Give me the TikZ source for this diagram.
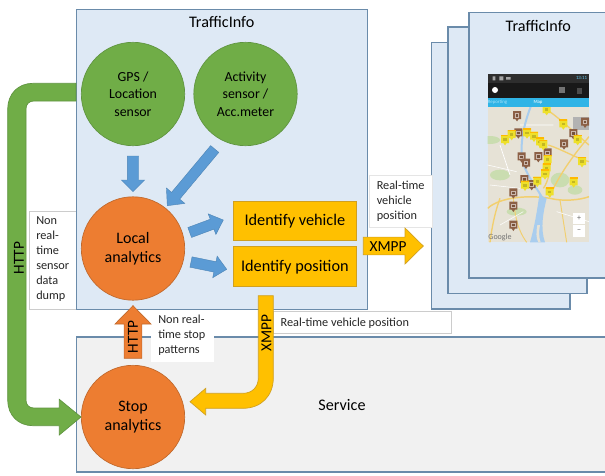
\documentclass[tikz,border=0pt]{standalone}
\usepackage{fontspec}
\setmainfont{Carlito}
\usetikzlibrary{calc}
\definecolor{panelfill}{HTML}{DEE9F5}
\definecolor{panelline}{HTML}{6A8BAA}
\definecolor{servfill}{HTML}{F1F1F1}
\definecolor{greenf}{HTML}{70AD47}
\definecolor{greenl}{HTML}{5F9440}
\definecolor{orangef}{HTML}{ED7D31}
\definecolor{orangel}{HTML}{C0682C}
\definecolor{yellowf}{HTML}{FFC000}
\definecolor{yellowl}{HTML}{D0A020}
\definecolor{bluef}{HTML}{5B9BD5}
\definecolor{mapbg}{HTML}{E6E2D6}
\definecolor{road}{HTML}{F2CF6E}
\definecolor{river}{HTML}{A9CDEE}
\definecolor{park}{HTML}{CADDB0}
\definecolor{pinY}{HTML}{EEE02A}
\definecolor{pinB}{HTML}{8C6046}
\definecolor{tabblue}{HTML}{30B4E6}
\def\u{0.75pt}
\tikzset{
  panel/.style={draw=panelline,line width=0.85pt,fill=panelfill,inner sep=0pt},
  servpanel/.style={panel,fill=servfill},
  sensor/.style={circle,draw=greenl,fill=greenf,line width=0.5pt,minimum size=103.4*\u,inner sep=0pt,align=center,font=\fontsize{10.4pt}{13pt}\selectfont},
  analytic/.style={circle,draw=orangel,fill=orangef,line width=0.5pt,minimum size=103.4*\u,inner sep=0pt,align=center,font=\fontsize{12pt}{14.5pt}\selectfont},
  idbox/.style={draw=yellowl,fill=yellowf,line width=0.6pt,inner sep=0pt,text height=8.5pt,text depth=0.5pt,font=\fontsize{12.2pt}{14pt}\selectfont},
  title/.style={inner sep=0pt,font=\fontsize{12.1pt}{14pt}\selectfont},
  lbl/.style={inner sep=0pt,align=left,font=\fontsize{9.2pt}{11.3pt}\selectfont,text=black!85},
  lblbox/.style={fill=white,inner sep=0pt},
  arrowlbl/.style={inner sep=0pt,font=\fontsize{11.5pt}{13pt}\selectfont},
  bluearrow/.style={fill=bluef,draw=bluef!85!black,line width=0.3pt},
  tiny/.style={inner sep=0pt,font=\fontsize{3.6pt}{4pt}\selectfont}
}
% style, from, to, shaft width, head width, head length (in reference pixels)
\newcommand{\blockarrow}[6]{%
  \coordinate (hb) at ($(#3)!#6*0.75pt!(#2)$);
  \draw[#1] ($(#2)!#4*0.375pt!90:(#3)$) -- ($(hb)!#4*0.375pt!90:(#3)$) -- ($(hb)!#5*0.375pt!90:(#3)$) -- (#3)
    -- ($(hb)!#5*0.375pt!-90:(#3)$) -- ($(hb)!#4*0.375pt!-90:(#3)$) -- ($(#2)!#4*0.375pt!-90:(#3)$) -- cycle;
}
\newcommand{\mappin}[3]{%
  \fill[#3] (#1-12,#2-15) -- (#1+12,#2-15) -- (#1+12,#2+9) -- (#1+5,#2+9) -- (#1,#2+16) -- (#1-5,#2+9) -- (#1-12,#2+9) -- cycle;
}
\newcommand{\ypin}[2]{\mappin{#1}{#2}{pinY}\fill[orange!55!yellow] (#1-12,#2-15) rectangle (#1+12,#2-11);\fill[pinY!82!black] (#1-5,#2-5) rectangle (#1+5,#2+3);}
\newcommand{\bpin}[2]{\mappin{#1}{#2}{pinB}\fill[pinB!45!white] (#1-7,#2-8) rectangle (#1+7,#2+5);\fill[pinB!85!black] (#1-4,#2-5) rectangle (#1+4,#2+2);}
\begin{document}
\begin{tikzpicture}[x=0.75pt,y=-0.75pt]
\useasboundingbox (0,0) rectangle (605,475);
% label behind the panel
\node[lblbox,draw=black!20,line width=0.5pt,minimum width=60*\u,minimum height=98*\u] (dumpbox) at (59,260.3) {};
% phone stack
\node[panel,minimum width=138.3*\u,minimum height=266.3*\u] (stackc) at (500.85,175.85) {};
\node[panel,minimum width=139*\u,minimum height=266.7*\u] (stackb) at (517.5,160.35) {};
\node[panel,minimum width=160*\u,minimum height=265.3*\u] (stacka) at (549,145.35) {};
\node[title] (apptitle) at (538.3,26) {TrafficInfo};
% panels
\node[panel,minimum width=291*\u,minimum height=300.3*\u] (trafficpanel) at (222,159.3) {};
\node[servpanel,minimum width=560*\u,minimum height=135*\u] (servicepanel) at (356.5,404.5) {};
\node[title] (traffictitle) at (221.7,22.3) {TrafficInfo};
\node[title] (servicetitle) at (342,405) {Service};
% white labels
\node[lblbox,draw=black!20,line width=0.5pt,minimum width=178.4*\u,minimum height=22.4*\u] (rtbox) at (362.5,322.5) {};
\node[lbl,anchor=west] (rtlabel) at (280.3,323) {Real-time vehicle position};
\node[lblbox,minimum width=63.3*\u,minimum height=51.7*\u] (stopbox) at (182.35,335.85) {};
\node[lbl,anchor=north west] (stoplabel) at (158,314.5) {Non real-\\time stop\\patterns};
\node[lblbox,draw=black!10,line width=0.4pt,minimum width=62.7*\u,minimum height=52*\u] (vehbox) at (400.65,201.7) {};
\node[lbl,anchor=north west] (vehlabel) at (376.5,180.5) {Real-time\\vehicle\\position};
\node[lbl,anchor=north west] (dumplabel) at (36,216) {Non\\real-\\time\\sensor\\data\\dump};
% circles and boxes
\node[sensor] (gps) at (133,94) {GPS /\\Location\\sensor};
\node[sensor] (activity) at (245.5,94) {Activity\\sensor /\\Acc.meter};
\node[analytic] (local) at (133,248.5) {Local\\analytics};
\node[analytic] (stop) at (133,417) {Stop\\analytics};
\node[idbox,minimum width=123.7*\u,minimum height=39*\u] (idveh) at (294.85,220.5) {Identify vehicle};
\node[idbox,minimum width=123.7*\u,minimum height=40.7*\u] (idpos) at (294.85,266.35) {Identify position};
% blue arrows
\coordinate (a1s) at (133,156); \coordinate (a1e) at (133,191.7);
\blockarrow{bluearrow}{a1s}{a1e}{11.4}{23.4}{11.7}
\coordinate (a2s) at (214.7,149); \coordinate (a2e) at (167.3,205.7);
\blockarrow{bluearrow}{a2s}{a2e}{10.6}{24}{13}
\coordinate (a3s) at (189.7,232.5); \coordinate (a3e) at (223.3,220);
\blockarrow{bluearrow}{a3s}{a3e}{10.6}{22}{12}
\coordinate (a4s) at (191,262); \coordinate (a4e) at (226.7,269.3);
\blockarrow{bluearrow}{a4s}{a4e}{10.6}{22}{12}
% green HTTP arrow
\coordinate (g1) at (76,83.3);
\draw[fill=greenf,draw=greenl,line width=0.5pt]
  (g1) -- (33,83.3) .. controls (18,83.3) and (7.7,94) .. (7.7,109)
  -- (7.7,400) .. controls (7.7,415) and (18,425.7) .. (33,425.7)
  -- (59.3,425.7) -- (59.3,435) -- (stop.west) -- (59.3,399.3) -- (59.3,408)
  -- (34,408) .. controls (29,408) and (26,405) .. (26,400)
  -- (26,109) .. controls (26,104) and (29,101) .. (34,101) -- (76,101) -- cycle;
\node[arrowlbl,rotate=90] (httpleft) at (19,258) {HTTP};
% orange HTTP arrow
\coordinate (o1) at (133,358.3); \coordinate (o2) at (133,305.7);
\blockarrow{fill=orangef,draw=orangel,line width=0.5pt}{o1}{o2}{17.7}{36}{18.3}
\node[arrowlbl,rotate=90] (httpup) at (133,336.7) {HTTP};
% yellow XMPP right
\coordinate (y1) at (363.3,246); \coordinate (y2) at (423.3,246);
\blockarrow{fill=yellowf,draw=yellowl,line width=0.5pt}{y1}{y2}{17.7}{36}{18.3}
\node[arrowlbl] (xmppright) at (388,247) {XMPP};
% yellow XMPP curved
\coordinate (c1) at (258.3,295.7);
\draw[fill=yellowf,draw=yellowl,line width=0.5pt]
  (c1) -- (273.3,295.7) -- (273.3,378) .. controls (273.3,396) and (261,408.3) .. (243,408.3)
  -- (205.7,408.3) -- (205.7,415) -- (190,401.7) -- (205.7,388.3) -- (205.7,393.3)
  -- (243,393.3) .. controls (252,393.3) and (258.3,387) .. (258.3,378) -- cycle;
\node[arrowlbl,rotate=90] (xmppdown) at (266.4,333.3) {XMPP};
% phone screenshot, in 3x crop coordinates
\begin{scope}[shift={(480,65)},x=0.25pt,y=-0.25pt]
  \begin{scope}
    \clip (23,125) rectangle (327,532);
    \fill[mapbg] (23,125) rectangle (327,532);
    \fill[park] (30,225) ellipse (30 and 12);
    \fill[park] (240,345) ellipse (28 and 22);
    \fill[park] (285,375) ellipse (22 and 14);
    \fill[park] (60,330) ellipse (30 and 16);
    \fill[park] (110,440) ellipse (30 and 12);
    \fill[black!30] (280,155) rectangle (327,195);
    \draw[road,line width=1.1pt] (23,430) .. controls (60,395) and (150,390) .. (210,400) .. controls (250,410) and (300,405) .. (327,395);
    \draw[road,line width=1pt] (60,400) .. controls (45,440) and (35,490) .. (30,532);
    \draw[road,line width=1pt] (195,130) .. controls (240,160) and (280,200) .. (327,240);
    \draw[road,line width=1pt] (327,215) .. controls (280,270) and (230,340) .. (210,395);
    \draw[road,line width=1pt] (205,240) .. controls (250,255) and (290,280) .. (327,290);
    \draw[road,line width=1pt] (120,195) .. controls (150,200) and (190,230) .. (205,270) .. controls (215,310) and (205,350) .. (190,370);
    \draw[road,line width=0.7pt] (100,400) .. controls (105,450) and (110,490) .. (140,532);
    \draw[road,line width=0.7pt] (240,405) -- (260,532);
    \draw[white,line width=0.5pt] (60,240) -- (90,330);
    \draw[white,line width=0.4pt] (23,300) -- (110,320) (30,360) -- (120,370) (130,440) -- (60,480) (230,440) -- (327,470) (220,180) -- (120,180);
    \draw[river,line width=1.5pt] (152,125) .. controls (135,170) and (122,220) .. (125,270) .. controls (130,320) and (165,360) .. (188,400);
    \fill[river] (178,390) -- (200,400) .. controls (190,440) and (180,490) .. (195,532) -- (150,532) .. controls (165,480) and (172,430) .. (178,390);
    \fill[mapbg] (172,480) .. controls (168,500) and (168,520) .. (175,532) -- (182,532) .. controls (176,515) and (176,500) .. (180,480) -- cycle;
    \foreach \px/\py in {111/153,315/173,280/207,252/238,115/205,125/277,138/296,175/276,203/265,133/345,155/360,100/385,100/425,100/482}{\bpin{\px}{\py}}
    \foreach \px/\py in {200/135,250/178,293/225,75/225,95/210,141/205,162/215,180/232,190/240,203/285,200/310,195/328,306/291,281/352,135/362,172/350,209/382}{\ypin{\px}{\py}}
    \fill[white] (280,445) rectangle (315,478);
    \fill[white] (280,481) rectangle (315,515);
  \end{scope}
  \fill[black!82] (23,27) rectangle (327,54);
  \fill[black!90] (23,54) rectangle (327,98);
  \fill[tabblue] (23,98) rectangle (327,125);
  \fill[white] (45,75) circle (9);
  \fill[black!55] (238,66) rectangle (256,84);
  \fill[black!70] (290,70) rectangle (306,86);
  \fill[black!35] (38,34) rectangle (46,46) (58,34) rectangle (70,46) (78,36) rectangle (92,44);
  \node[tiny,text=cyan!35!white,anchor=west] (tabrep) at (23,113) {Reporting};
  \node[tiny,text=white] (tabmap) at (174,113) {Map};
  \node[tiny,text=cyan!60!white,anchor=east] (clock) at (322,40) {13:11};
  \node[inner sep=0pt,text=black!60,font=\fontsize{6pt}{6pt}\selectfont] (zoomin) at (297,461) {+};
  \node[inner sep=0pt,text=black!60,font=\fontsize{6pt}{6pt}\selectfont] (zoomout) at (297,497) {−};
  \node[inner sep=0pt,text=black!55,font=\fontsize{6pt}{6pt}\selectfont] (googlemark) at (60,518) {Google};
\end{scope}
\end{tikzpicture}
\end{document}
